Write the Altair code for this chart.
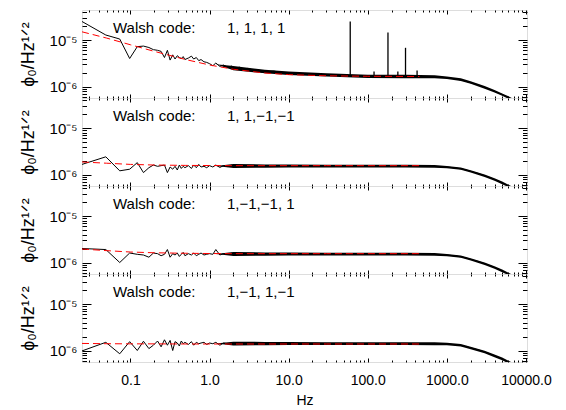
import altair as alt
import pandas as pd

FONT = "Liberation Sans"

# ---------------- data ----------------
FREQ = [0.0244, 0.0488, 0.0732, 0.0977, 0.122, 0.146, 0.171, 0.195, 0.220, 0.244,
        0.269, 0.293, 0.317, 0.342, 0.366, 0.391, 0.415, 0.439, 0.464, 0.488,
        0.54, 0.59, 0.63, 0.68, 0.73, 0.78, 0.85, 0.92,
        1.0, 1.1, 1.2, 1.35, 1.5, 1.7, 1.9,
        2.1, 2.4, 2.7, 3.0, 3.5, 4.0, 4.7, 5.5, 6.5, 8,
        10, 13, 17, 22, 30, 40, 55, 75,
        100, 140, 200, 280, 400, 550, 750,
        1000, 1300, 1600, 2000, 2500, 3000, 3500, 4000, 5000, 6000, 7000, 8000]

P1 = [2.5e-5, 1.28e-5, 1.05e-5, 4.0e-6, 7.2e-6, 7.4e-6, 6.9e-6, 6.2e-6, 6.0e-6, 5.7e-6,
      4.2e-6, 6.0e-6, 3.7e-6, 4.8e-6, 3.9e-6, 4.6e-6, 4.2e-6, 4.0e-6, 4.4e-6, 3.8e-6,
      4.1e-6, 4.5e-6, 3.9e-6, 4.2e-6, 3.6e-6, 3.8e-6, 3.4e-6, 3.3e-6,
      3.1e-6, 2.8e-6, 3.2e-6, 2.7e-6, 2.9e-6, 2.6e-6, 2.75e-6,
      2.5e-6, 2.6e-6, 2.35e-6, 2.45e-6, 2.3e-6, 2.25e-6, 2.2e-6, 2.1e-6, 2.15e-6, 2.0e-6,
      1.95e-6, 1.9e-6, 1.85e-6, 1.8e-6, 1.78e-6, 1.72e-6, 1.7e-6, 1.68e-6,
      1.66e-6, 1.65e-6, 1.64e-6, 1.65e-6, 1.63e-6, 1.62e-6, 1.6e-6,
      1.55e-6, 1.45e-6, 1.35e-6, 1.2e-6, 1.08e-6, 9.6e-7, 8.7e-7, 7.9e-7, 6.7e-7, 5.8e-7, 5.1e-7, 4.5e-7]

P2 = [1.65e-6, 2.4e-6, 1.2e-6, 1.3e-6, 1.8e-6, 1.1e-6, 1.4e-6, 1.6e-6, 1.5e-6, 1.55e-6,
      1.6e-6, 1.1e-6, 1.45e-6, 1.3e-6, 1.5e-6, 1.25e-6, 1.6e-6, 1.35e-6, 1.5e-6, 1.4e-6,
      1.55e-6, 1.35e-6, 1.6e-6, 1.4e-6, 1.65e-6, 1.45e-6, 1.5e-6, 1.4e-6,
      1.55e-6, 1.45e-6, 1.6e-6, 1.42e-6, 1.55e-6, 1.48e-6, 1.58e-6,
      1.5e-6, 1.56e-6, 1.48e-6, 1.55e-6, 1.5e-6, 1.53e-6, 1.5e-6, 1.54e-6, 1.5e-6, 1.52e-6,
      1.52e-6, 1.5e-6, 1.53e-6, 1.51e-6, 1.52e-6, 1.5e-6, 1.52e-6, 1.51e-6,
      1.52e-6, 1.51e-6, 1.52e-6, 1.52e-6, 1.51e-6, 1.5e-6, 1.48e-6,
      1.45e-6, 1.38e-6, 1.3e-6, 1.17e-6, 1.05e-6, 9.4e-7, 8.6e-7, 7.8e-7, 6.6e-7, 5.7e-7, 5.0e-7, 4.4e-7]

P3 = [2.0e-6, 1.9e-6, 1.0e-6, 1.6e-6, 1.5e-6, 1.45e-6, 1.3e-6, 1.6e-6, 1.55e-6, 1.4e-6,
      1.5e-6, 1.9e-6, 1.3e-6, 1.55e-6, 1.45e-6, 1.6e-6, 1.35e-6, 1.5e-6, 1.65e-6, 1.4e-6,
      1.55e-6, 1.45e-6, 1.6e-6, 1.4e-6, 1.5e-6, 1.6e-6, 1.45e-6, 1.5e-6,
      1.55e-6, 1.5e-6, 1.9e-6, 1.45e-6, 1.55e-6, 1.5e-6, 1.58e-6,
      1.55e-6, 1.5e-6, 1.56e-6, 1.5e-6, 1.54e-6, 1.5e-6, 1.52e-6, 1.53e-6, 1.5e-6, 1.52e-6,
      1.52e-6, 1.51e-6, 1.53e-6, 1.51e-6, 1.52e-6, 1.5e-6, 1.52e-6, 1.51e-6,
      1.52e-6, 1.51e-6, 1.52e-6, 1.52e-6, 1.51e-6, 1.5e-6, 1.48e-6,
      1.45e-6, 1.38e-6, 1.3e-6, 1.17e-6, 1.05e-6, 9.4e-7, 8.6e-7, 7.8e-7, 6.6e-7, 5.7e-7, 5.0e-7, 4.4e-7]

P4 = [9.8e-7, 1.5e-6, 8.5e-7, 1.55e-6, 1.0e-6, 1.58e-6, 1.1e-6, 1.3e-6, 1.6e-6, 1.2e-6,
      1.7e-6, 1.3e-6, 1.65e-6, 1.0e-6, 1.55e-6, 1.45e-6, 1.25e-6, 1.6e-6, 1.4e-6, 1.5e-6,
      1.35e-6, 1.55e-6, 1.3e-6, 1.5e-6, 1.4e-6, 1.45e-6, 1.5e-6, 1.35e-6,
      1.45e-6, 1.4e-6, 1.5e-6, 1.3e-6, 1.45e-6, 1.4e-6, 1.42e-6,
      1.4e-6, 1.45e-6, 1.38e-6, 1.42e-6, 1.4e-6, 1.41e-6, 1.38e-6, 1.42e-6, 1.4e-6, 1.41e-6,
      1.42e-6, 1.4e-6, 1.41e-6, 1.42e-6, 1.4e-6, 1.41e-6, 1.42e-6, 1.41e-6,
      1.42e-6, 1.41e-6, 1.42e-6, 1.42e-6, 1.41e-6, 1.4e-6, 1.39e-6,
      1.38e-6, 1.33e-6, 1.26e-6, 1.14e-6, 1.03e-6, 9.3e-7, 8.5e-7, 7.7e-7, 6.6e-7, 5.7e-7, 5.0e-7, 4.4e-7]

# envelope of the dense noise band at high frequency
BAND_F = [1.2, 2, 5, 10, 30, 100, 300, 700, 1000, 1500, 2000, 3000, 4000, 5000, 6000, 8000]
P1_LO = [3.0e-6, 2.25e-6, 1.92e-6, 1.76e-6, 1.64e-6, 1.53e-6, 1.51e-6, 1.5e-6, 1.45e-6, 1.31e-6, 1.14e-6, 9.0e-7, 7.4e-7, 6.3e-7, 5.45e-7, 4.2e-7]
P1_HI = [3.0e-6, 2.75e-6, 2.3e-6, 2.1e-6, 1.93e-6, 1.8e-6, 1.78e-6, 1.75e-6, 1.65e-6, 1.5e-6, 1.3e-6, 1.02e-6, 8.4e-7, 7.1e-7, 6.15e-7, 4.8e-7]
P2_LO = [1.52e-6, 1.38e-6, 1.4e-6, 1.41e-6, 1.42e-6, 1.42e-6, 1.42e-6, 1.4e-6, 1.36e-6, 1.27e-6, 1.1e-6, 8.8e-7, 7.3e-7, 6.2e-7, 5.35e-7, 4.1e-7]
P2_HI = [1.52e-6, 1.68e-6, 1.65e-6, 1.64e-6, 1.63e-6, 1.62e-6, 1.62e-6, 1.6e-6, 1.53e-6, 1.42e-6, 1.24e-6, 1.0e-6, 8.3e-7, 7.05e-7, 6.05e-7, 4.7e-7]
P3_LO = [1.52e-6, 1.38e-6, 1.4e-6, 1.41e-6, 1.42e-6, 1.42e-6, 1.42e-6, 1.4e-6, 1.36e-6, 1.27e-6, 1.1e-6, 8.8e-7, 7.3e-7, 6.2e-7, 5.35e-7, 4.1e-7]
P3_HI = [1.52e-6, 1.68e-6, 1.65e-6, 1.64e-6, 1.63e-6, 1.62e-6, 1.62e-6, 1.6e-6, 1.53e-6, 1.42e-6, 1.24e-6, 1.0e-6, 8.3e-7, 7.05e-7, 6.05e-7, 4.7e-7]
P4_LO = [1.42e-6, 1.28e-6, 1.3e-6, 1.31e-6, 1.31e-6, 1.32e-6, 1.32e-6, 1.3e-6, 1.29e-6, 1.22e-6, 1.07e-6, 8.7e-7, 7.2e-7, 6.15e-7, 5.3e-7, 4.1e-7]
P4_HI = [1.42e-6, 1.55e-6, 1.53e-6, 1.52e-6, 1.51e-6, 1.51e-6, 1.51e-6, 1.5e-6, 1.47e-6, 1.38e-6, 1.21e-6, 9.9e-7, 8.2e-7, 7.05e-7, 6.05e-7, 4.7e-7]

# red dashed fit
RED_F = [0.0244, 0.05, 0.1, 0.2, 0.5, 1, 2, 5, 10, 30, 100, 450]
RED1 = [1.5e-5, 1.1e-5, 7.9e-6, 5.7e-6, 3.8e-6, 2.9e-6, 2.35e-6, 1.95e-6, 1.8e-6, 1.7e-6, 1.66e-6, 1.64e-6]
RED2 = [1.86e-6, 1.75e-6, 1.65e-6, 1.6e-6, 1.57e-6, 1.56e-6, 1.55e-6, 1.55e-6, 1.55e-6, 1.55e-6, 1.55e-6, 1.55e-6]
RED3 = [1.95e-6, 1.8e-6, 1.68e-6, 1.62e-6, 1.58e-6, 1.56e-6, 1.55e-6, 1.55e-6, 1.55e-6, 1.55e-6, 1.55e-6, 1.55e-6]
RED4 = [1.42e-6, 1.4e-6, 1.39e-6, 1.39e-6, 1.38e-6, 1.38e-6, 1.38e-6, 1.38e-6, 1.38e-6, 1.38e-6, 1.38e-6, 1.38e-6]

# pick-up lines in the first panel
SPIKE_F = [60, 120, 180, 240, 300, 420]
SPIKE_BASE = [1.65e-6, 1.65e-6, 1.65e-6, 1.65e-6, 1.65e-6, 1.65e-6]
SPIKE_TOP = [2.5e-5, 2.1e-6, 1.45e-5, 2.1e-6, 6.8e-6, 2.2e-6]

# Walsh codes of the four panels
CODES = [[1, 1, 1, 1], [1, 1, -1, -1], [1, -1, -1, 1], [1, -1, 1, -1]]

X_MAJ = [0.1, 1, 10, 100, 1000, 10000]
X_MINOR = [0.03, 0.04, 0.05, 0.06, 0.07, 0.08, 0.09,
           0.2, 0.3, 0.4, 0.5, 0.6, 0.7, 0.8, 0.9,
           2, 3, 4, 5, 6, 7, 8, 9,
           20, 30, 40, 50, 60, 70, 80, 90,
           200, 300, 400, 500, 600, 700, 800, 900,
           2000, 3000, 4000, 5000, 6000, 7000, 8000, 9000]
Y_MAJ = [1e-6, 1e-5]
Y_MINOR = [6e-7, 7e-7, 8e-7, 9e-7, 2e-6, 3e-6, 4e-6, 5e-6, 6e-6, 7e-6, 8e-6, 9e-6,
           2e-5, 3e-5, 4e-5]

XMIN, XMAX = 0.0244, 10300
YMIN, YMAX = 5.66e-7, 4.42e-5
W, H = 445, 88
TEXT_Y = 18
TEXT_SIZE = 15
MINUS = "\u2212"
# approximate Liberation Sans advance widths (per 1000 em) for word placement
ADV = {"W": 944, "a": 556, "l": 222, "s": 500, "h": 556, "c": 500, "o": 556,
       "d": 556, "e": 556, ":": 278, "1": 556, ",": 278, MINUS: 584, " ": 278}


def tick_axis(orient, values, size):
    return alt.Axis(orient=orient, values=values, tickSize=size, offset=-size,
                    labels=False, domain=False, grid=False, title=None,
                    minExtent=0, maxExtent=0, tickColor="black")


def text_layer(txt, x):
    return alt.Chart(pd.DataFrame({"t": [txt]})).mark_text(
        align="left", baseline="middle", font=FONT, fontSize=TEXT_SIZE,
        color="black").encode(text="t:N", x=alt.value(x), y=alt.value(TEXT_Y))


def word_layers(line, x0):
    out = []
    x = x0
    for w in line.split(" "):
        out.append(text_layer(w, x))
        x += sum(ADV.get(ch, 556) for ch in w + " ") * TEXT_SIZE / 1000.0
    return out


def code_string(code):
    parts = [(MINUS if c < 0 else " ") + str(abs(c)) for c in code]
    return ",".join(parts).lstrip(" ")


def panel(vals, lo, hi, red, code, bottom, spikes=False):
    xs = alt.Scale(type="log", domain=[XMIN, XMAX], nice=False)
    ys = alt.Scale(type="log", domain=[YMIN, YMAX], nice=False)
    df = pd.DataFrame({"f": FREQ, "v": vals})
    band = pd.DataFrame({"f": BAND_F, "lo": lo, "hi": hi})
    rdf = pd.DataFrame({"f": RED_F, "v": red})

    if bottom:
        xb = alt.Axis(orient="bottom", values=X_MAJ, tickSize=4, offset=-4,
                      domain=False, grid=False, labels=True,
                      labelExpr="format(datum.value, '.1f')",
                      labelFontSize=14, labelPadding=11, labelOverlap=False,
                      labelFlush=False, title="Hz", titleFontSize=14,
                      titleFontWeight="normal", titlePadding=6,
                      tickColor="black", labelColor="black", titleColor="black",
                      labelFont=FONT, titleFont=FONT)
    else:
        xb = tick_axis("bottom", X_MAJ, 4)

    yl = alt.Axis(orient="left", values=Y_MAJ, tickSize=9, offset=-9,
                  domain=False, grid=False,
                  labelExpr="datum.value > 3e-6 ? '10\u207b\u2075' : '10\u207b\u2076'",
                  labelFontSize=15, labelPadding=5, labelColor="black",
                  labelFont=FONT, tickColor="black",
                  title="\u03d5\u2080/Hz\u00b9\u141f\u00b2", titleFontSize=18,
                  titleFontWeight="normal", titleColor="black", titleFont=FONT,
                  titlePadding=12)

    A = alt.Chart(df).mark_line(color="black", strokeWidth=1, clip=True).encode(
        x=alt.X("f:Q", scale=xs, axis=xb),
        y=alt.Y("v:Q", scale=ys, axis=yl))
    B = alt.Chart(band).mark_area(color="black", clip=True).encode(
        x=alt.X("f:Q", scale=xs, axis=tick_axis("bottom", X_MINOR, 2)),
        y=alt.Y("lo:Q", scale=ys, axis=tick_axis("left", Y_MINOR, 4.5)),
        y2="hi:Q")
    C = alt.Chart(rdf).mark_line(color="#ff0000", strokeWidth=1, strokeDash=[7, 4],
                                 clip=True).encode(
        x=alt.X("f:Q", scale=xs, axis=tick_axis("top", X_MAJ, 4)),
        y=alt.Y("v:Q", scale=ys, axis=tick_axis("right", Y_MAJ, 9)))
    D = alt.Chart(df).mark_line(strokeOpacity=0, clip=True).encode(
        x=alt.X("f:Q", scale=xs, axis=tick_axis("top", X_MINOR, 2)),
        y=alt.Y("v:Q", scale=ys, axis=tick_axis("right", Y_MINOR, 4.5)))

    texts = word_layers("Walsh code:", 31) + word_layers(code_string(code), 145)

    layers = [A, B]
    if spikes:
        sdf = pd.DataFrame({"f": SPIKE_F, "b": SPIKE_BASE, "t": SPIKE_TOP})
        S = alt.Chart(sdf).mark_rule(color="black", strokeWidth=1.3, clip=True).encode(
            x=alt.X("f:Q", scale=xs, axis=None),
            y=alt.Y("b:Q", scale=ys, axis=None), y2="t:Q")
        layers.append(S)
    layers += [C, D] + texts
    return alt.layer(*layers).resolve_axis(x="independent", y="independent").properties(
        width=W, height=H)


panels = [
    panel(P1, P1_LO, P1_HI, RED1, CODES[0], False, spikes=True),
    panel(P2, P2_LO, P2_HI, RED2, CODES[1], False),
    panel(P3, P3_LO, P3_HI, RED3, CODES[2], False),
    panel(P4, P4_LO, P4_HI, RED4, CODES[3], True),
]

chart = alt.vconcat(*panels, spacing=0, bounds="flush").properties(
    padding={"left": 10, "top": 1, "right": 5, "bottom": 2}
).configure_view(stroke="black", strokeWidth=1).configure(background="white")

chart.save("out.html", embed_options={"renderer": "svg", "actions": False})
